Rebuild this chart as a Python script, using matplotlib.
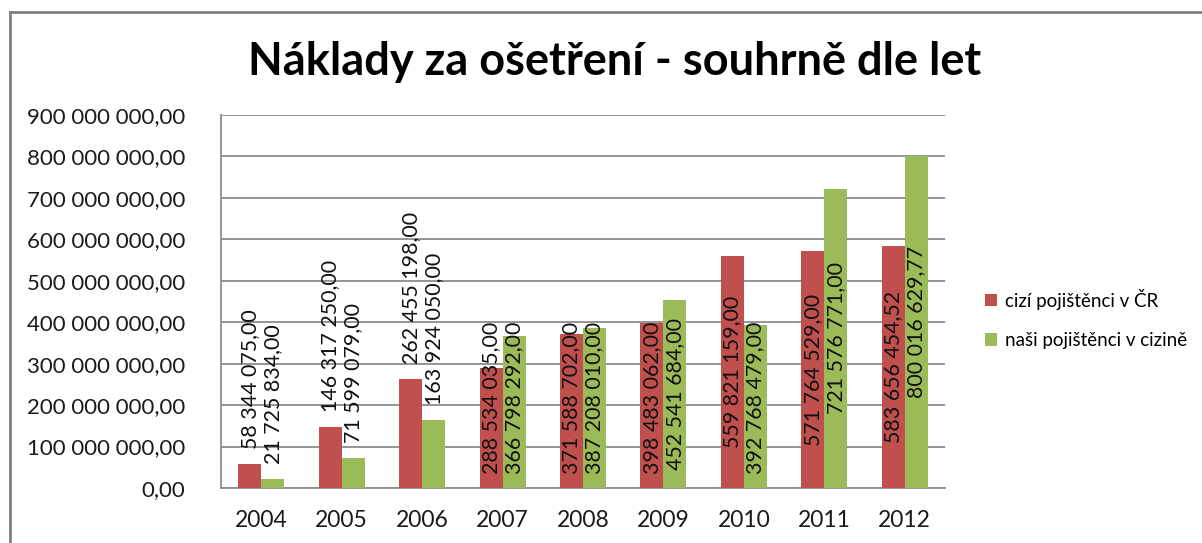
import matplotlib
matplotlib.use("Agg")
import matplotlib.pyplot as plt
import numpy as np
from matplotlib.patches import Patch
from matplotlib.lines import Line2D

years = ["2004", "2005", "2006", "2007", "2008", "2009", "2010", "2011", "2012"]
cizi = [58344075.00, 146317250.00, 262455198.00, 288534035.00, 371588702.00,
        398483062.00, 559821159.00, 571764529.00, 583656454.52]
nasi = [21725834.00, 71599079.00, 163924050.00, 366798292.00, 387208010.00,
        452541684.00, 392768479.00, 721576771.00, 800016629.77]
cizi_labels = ["58 344 075,00", "146 317 250,00", "262 455 198,00", "288 534 035,00",
               "371 588 702,00", "398 483 062,00", "559 821 159,00", "571 764 529,00",
               "583 656 454,52"]
nasi_labels = ["21 725 834,00", "71 599 079,00", "163 924 050,00", "366 798 292,00",
               "387 208 010,00", "452 541 684,00", "392 768 479,00", "721 576 771,00",
               "800 016 629,77"]
series_names = ["cizí pojištěnci v ČR", "naši pojištěnci v cizině"]
title = "Náklady za ošetření - souhrně dle let"
yticks = np.arange(0, 900000001, 100000000)
ytick_labels = ["0,00", "100 000 000,00", "200 000 000,00", "300 000 000,00",
                "400 000 000,00", "500 000 000,00", "600 000 000,00", "700 000 000,00",
                "800 000 000,00", "900 000 000,00"]

RED = "#C0504D"
GREEN = "#9BBB59"
GRID = "#8C8C8C"
FONT = "Lato"

plt.rcParams["font.family"] = [FONT, "DejaVu Sans"]

fig = plt.figure(figsize=(12.02, 5.43), dpi=100)
ax = fig.add_axes([221 / 1202, 1 - 488 / 543, (945 - 221) / 1202, (488 - 115) / 543])

x = np.arange(len(years))
w = 0.286
ax.bar(x - w / 2, cizi, width=w, color=RED, zorder=3)
ax.bar(x + w / 2, nasi, width=w, color=GREEN, zorder=3)

ax.set_xlim(-0.5, len(years) - 0.5)
ax.set_ylim(0, 900000000)
ax.set_yticks(yticks)
ax.set_yticklabels(ytick_labels, fontsize=16, color="#1a1a1a")
ax.set_xticks(x)
ax.set_xticklabels(years, fontsize=16.5, color="#1a1a1a")
ax.tick_params(axis="both", length=0)
ax.tick_params(axis="y", pad=26)
ax.tick_params(axis="x", pad=16)
ax.yaxis.grid(True, color=GRID, linewidth=1.3, zorder=0)
for s in ["top", "right"]:
    ax.spines[s].set_visible(False)
for s in ["left", "bottom"]:
    ax.spines[s].set_color(GRID)
    ax.spines[s].set_linewidth(1.3)

# data labels
OUT_THRESHOLD = 275000000
CENTER_MIN = 217000000
for vals, labs, off in ((cizi, cizi_labels, -w / 2), (nasi, nasi_labels, w / 2)):
    for xi, v, lab in zip(x, vals, labs):
        if v < OUT_THRESHOLD:
            ax.annotate(lab, (xi + off, v), xytext=(0, 11), textcoords="offset points",
                        rotation=90, ha="center", va="bottom", fontsize=15.4,
                        color="#111111", zorder=5)
        else:
            ax.text(xi + off, max(v / 2, CENTER_MIN), lab, rotation=90, ha="center",
                    va="center", fontsize=15.4, color="#111111", zorder=5)

fig.text(615 / 1202, 1 - 62 / 543, title, ha="center", va="center",
         fontsize=32.5, fontweight="bold", color="black")

handles = [Patch(facecolor=RED, edgecolor="none"), Patch(facecolor=GREEN, edgecolor="none")]
fig.legend(handles, series_names, loc="center left",
           bbox_to_anchor=(968 / 1202, 1 - 319 / 543), frameon=False,
           fontsize=13.5, handlelength=0.65, handleheight=0.65, handletextpad=0.4,
           labelspacing=1.2)

# chart outer border (top & left visible)
fig.add_artist(Line2D([10 / 1202, 1.0], [1 - 12 / 543, 1 - 12 / 543],
                      transform=fig.transFigure, color="#808080", linewidth=2))
fig.add_artist(Line2D([10 / 1202, 10 / 1202], [0, 1 - 12 / 543],
                      transform=fig.transFigure, color="#808080", linewidth=2))

fig.savefig("out.png", dpi=100, facecolor="white")
